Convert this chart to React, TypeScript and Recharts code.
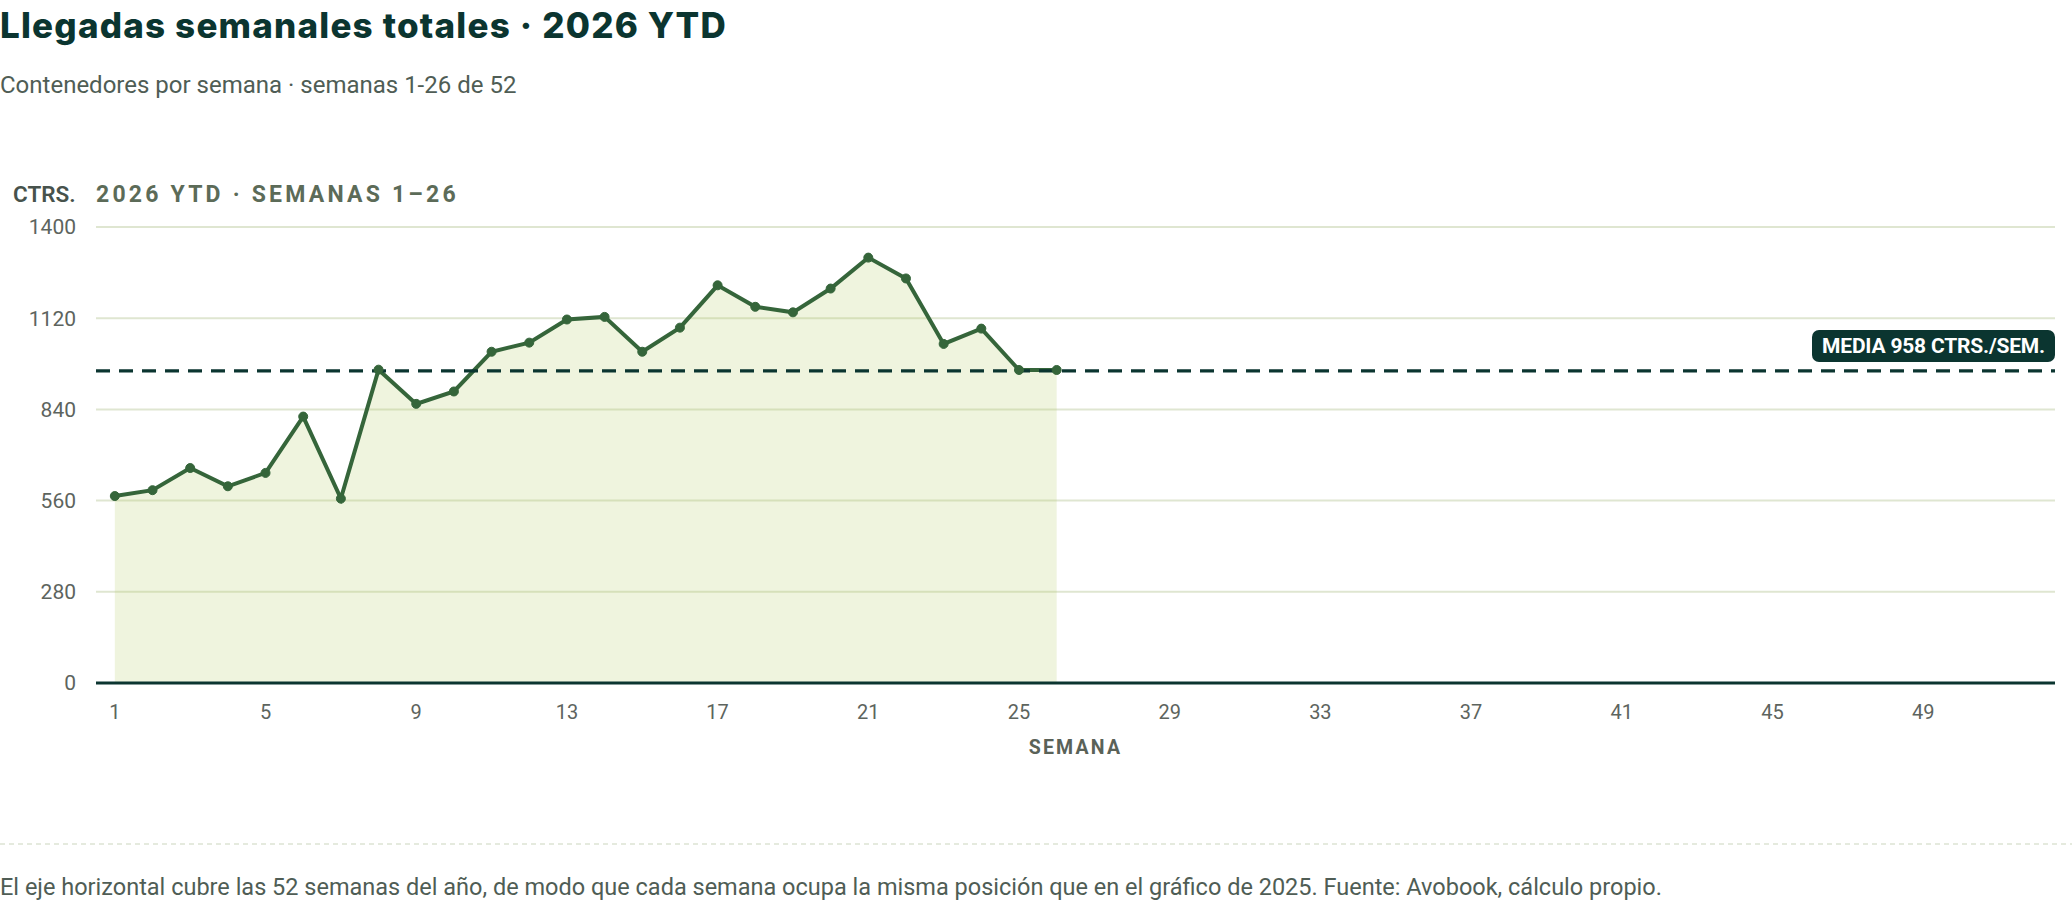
import React from 'react';
import {
  ComposedChart,
  Area,
  XAxis,
  YAxis,
  CartesianGrid,
  ReferenceLine,
} from 'recharts';

const weeks = [1, 2, 3, 4, 5, 6, 7, 8, 9, 10, 11, 12, 13, 14, 15, 16, 17, 18, 19, 20, 21, 22, 23, 24, 25, 26];
const arrivals = [574, 592, 660, 604, 645, 818, 566, 962, 857, 895, 1017, 1045, 1116, 1124, 1017, 1091, 1221, 1155, 1138, 1211, 1306, 1242, 1041, 1088, 961, 961];
const yTicks = [0, 280, 560, 840, 1120, 1400];
const xTicks = [1, 5, 9, 13, 17, 21, 25, 29, 33, 37, 41, 45, 49];
const meanValue = 958;
const meanLabel = 'MEDIA 958 CTRS./SEM.';

const title = 'Llegadas semanales totales · 2026 YTD';
const subtitle = 'Contenedores por semana · semanas 1-26 de 52';
const unitLabel = 'CTRS.';
const panelLabel = '2026 YTD · SEMANAS 1–26';
const xAxisLabel = 'SEMANA';
const footnote =
  'El eje horizontal cubre las 52 semanas del año, de modo que cada semana ocupa la misma posición que en el gráfico de 2025. Fuente: Avobook, cálculo propio.';

const data = weeks.map((w, i) => ({ week: w, value: arrivals[i] }));

const DARK = '#0b3530';
const LINE = '#35653a';
const TEXT = '#4f5d55';
const TICK = '#5d645e';

const MeanLabel = (props: any) => {
  const vb = props.viewBox || {};
  const w = 243;
  const h = 32;
  const right = vb.x + vb.width;
  const x = right - w;
  const y = vb.y - 41;
  return (
    <g>
      <rect x={x} y={y} width={w} height={h} rx={7} ry={7} fill={DARK} />
      <text
        x={x + w / 2}
        y={y + h / 2}
        dy="0.35em"
        textAnchor="middle"
        fill="#ffffff"
        fontFamily="Roboto, sans-serif"
        fontWeight={700}
        fontSize={21}
        letterSpacing={-0.2}
      >
        {meanLabel}
      </text>
    </g>
  );
};

export default function App() {
  return (
    <div
      style={{
        position: 'absolute',
        left: 0,
        top: 0,
        width: 2072,
        height: 908,
        background: '#ffffff',
        overflow: 'hidden',
      }}
    >
      <svg
        width={2072}
        height={908}
        style={{ position: 'absolute', left: 0, top: 0 }}
      >
        <text
          x={0}
          y={38}
          fontFamily="Inter, sans-serif"
          fontWeight={800}
          fontSize={35}
          letterSpacing={1.2}
          fill={DARK}
        >
          {title}
        </text>
        <text x={0} y={93} fontFamily="Roboto, sans-serif" fontWeight={400} fontSize={24} fill={TEXT}>
          {subtitle}
        </text>
        <text x={13} y={202} fontFamily="Roboto, sans-serif" fontWeight={600} fontSize={22.5} fill="#47524c">
          {unitLabel}
        </text>
        <text
          x={96}
          y={202}
          fontFamily="Roboto, sans-serif"
          fontWeight={700}
          fontSize={23}
          letterSpacing={3.2}
          fill="#5c6b58"
        >
          {panelLabel}
        </text>
        <text
          x={1075.5}
          y={754}
          textAnchor="middle"
          fontFamily="Roboto, sans-serif"
          fontWeight={700}
          fontSize={19.5}
          letterSpacing={2.2}
          fill="#5a6258"
        >
          {xAxisLabel}
        </text>
        <line x1={0} x2={2072} y1={844} y2={844} stroke="#dde4d3" strokeWidth={1.5} strokeDasharray="5 4" />
        <text x={0} y={895} fontFamily="Roboto, sans-serif" fontWeight={400} fontSize={23.5} fill={TEXT}>
          {footnote}
        </text>
      </svg>
      <div style={{ position: 'absolute', left: 0, top: 0 }}>
        <ComposedChart
          width={2072}
          height={908}
          data={data}
          margin={{ top: 227, right: 17, bottom: 0, left: 0 }}
        >
          <CartesianGrid vertical={false} stroke="#dfe6d1" strokeWidth={2} />
          <XAxis
            dataKey="week"
            type="number"
            domain={[0.5, 52.5]}
            ticks={xTicks}
            interval={0}
            height={225}
            tickLine={false}
            tickSize={0}
            tickMargin={22}
            axisLine={{ stroke: DARK, strokeWidth: 3 }}
            tick={{ fill: TICK, fontSize: 20, fontFamily: 'Roboto, sans-serif' }}
          />
          <YAxis
            type="number"
            domain={[0, 1400]}
            ticks={yTicks}
            interval={0}
            width={96}
            tickLine={false}
            tickSize={0}
            tickMargin={20}
            axisLine={false}
            tick={{ fill: TICK, fontSize: 21, fontFamily: 'Roboto, sans-serif' }}
          />
          <Area
            type="linear"
            dataKey="value"
            stroke={LINE}
            strokeWidth={4}
            fill="#b5cf6b"
            fillOpacity={0.22}
            dot={{ r: 4.5, fill: LINE, fillOpacity: 1, stroke: LINE, strokeWidth: 1 }}
            activeDot={false}
            isAnimationActive={false}
          />
          <ReferenceLine
            y={meanValue}
            stroke={DARK}
            strokeWidth={3.2}
            strokeDasharray="14 9"
            label={<MeanLabel />}
          />
        </ComposedChart>
      </div>
    </div>
  );
}
